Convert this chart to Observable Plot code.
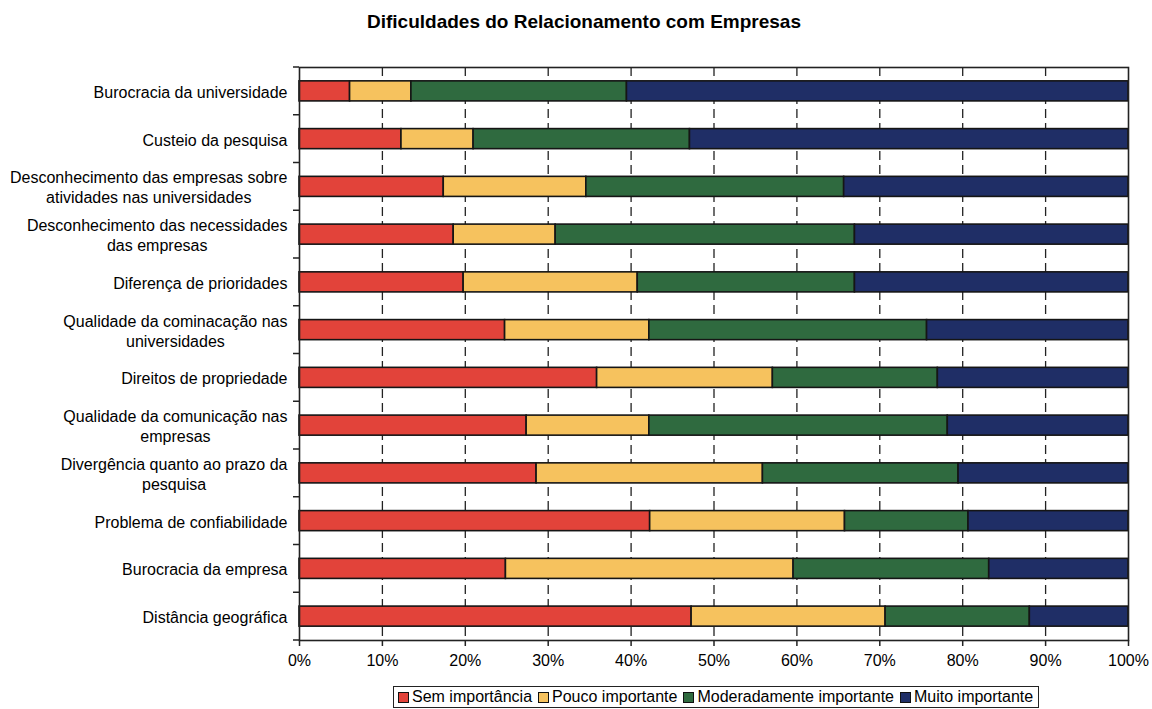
<!DOCTYPE html>
<html><head><meta charset="utf-8">
<script src="https://cdn.jsdelivr.net/npm/d3@7"></script>
<script src="https://cdn.jsdelivr.net/npm/@observablehq/plot@0.6"></script>
<style>
body{margin:0;background:#fff;font-family:"Liberation Sans",Arial,sans-serif;width:1152px;height:709px;overflow:hidden;position:relative;color:#000}
#title{position:absolute;left:0;width:1168px;top:11px;text-align:center;font-weight:bold;font-size:19px}
#chart{position:absolute;left:0;top:40px}
#legend{position:absolute;left:393px;top:686px;border:1px solid #222;padding:1px 5px 1px 4px;display:flex;font-size:16px;white-space:nowrap;background:#fff}
#legend .it{display:flex;align-items:center;margin-right:6px}
#legend .it:last-child{margin-right:0}
#legend .sw{width:9px;height:9px;border:1.5px solid #111;margin-right:3px}
</style></head>
<body>
<div id="title">Dificuldades do Relacionamento com Empresas</div>
<div id="chart"></div>
<div id="legend"></div>
<script>
const categories = [
  "Burocracia da universidade",
  "Custeio da pesquisa",
  "Desconhecimento das empresas sobre\natividades nas universidades",
  "Desconhecimento das necessidades\ndas empresas",
  "Diferença de prioridades",
  "Qualidade da cominacação nas\nuniversidades",
  "Direitos de propriedade",
  "Qualidade da comunicação nas\nempresas",
  "Divergência quanto ao prazo da\npesquisa",
  "Problema de confiabilidade",
  "Burocracia da empresa",
  "Distância geográfica"
];
const seriesNames = ["Sem importância", "Pouco importante", "Moderadamente importante", "Muito importante"];
const seriesColors = ["#e2433a", "#f6c25e", "#2f6a3f", "#1f2e66"];
const semImportancia      = [6.1, 12.3, 17.4, 18.6, 19.8, 24.8, 35.9, 27.4, 28.6, 42.3, 24.9, 47.3];
const poucoImportante     = [7.4,  8.7, 17.2, 12.3, 21.0, 17.4, 21.2, 14.8, 27.3, 23.5, 34.7, 23.4];
const moderadamente       = [26.0, 26.1, 31.1, 36.1, 26.2, 33.5, 19.9, 36.0, 23.6, 14.9, 23.6, 17.4];
const muitoImportante     = [60.5, 52.9, 34.3, 33.0, 33.0, 24.3, 23.0, 21.8, 20.5, 19.3, 16.8, 11.9];
const xTicks = [0, 10, 20, 30, 40, 50, 60, 70, 80, 90, 100];
const gridTicks = [10, 20, 30, 40, 50, 60, 70, 80, 90];

const seriesValues = [semImportancia, poucoImportante, moderadamente, muitoImportante];
const table = [];
categories.forEach((c, i) => seriesNames.forEach((s, j) => table.push({category: c, series: s, value: seriesValues[j][i]})));

function boundaryTicks(index, scales, values, dims) {
  const y = scales.y;
  const n = categories.length;
  const ys = categories.map(c => y(c));
  const step = (ys[n - 1] - ys[0]) / (n - 1);
  const bw = typeof y.bandwidth === "function" ? y.bandwidth() : step * 0.4;
  const centers = ys.map(v => v + bw / 2);
  const bounds = centers.map(c => c - step / 2).concat([centers[n - 1] + step / 2]);
  const g = d3.create("svg:g").attr("stroke", "#222").attr("stroke-width", 1.5);
  bounds.forEach(b => g.append("line").attr("x1", dims.marginLeft - 6).attr("x2", dims.marginLeft).attr("y1", b).attr("y2", b));
  return g.node();
}

const chart = Plot.plot({
  width: 1152, height: 640,
  marginLeft: 299, marginRight: 24, marginTop: 27, marginBottom: 40,
  style: {fontFamily: "Liberation Sans, Arial, sans-serif", fontSize: "16px", color: "black", background: "white", overflow: "visible"},
  x: {domain: [0, 100]},
  y: {domain: categories, paddingInner: 0.58, paddingOuter: 0.29, round: false},
  color: {domain: seriesNames, range: seriesColors},
  marks: [
    Plot.gridX(gridTicks, {stroke: "#222", strokeOpacity: 1, strokeDasharray: "9,5", strokeWidth: 1.3}),
    Plot.barX(table, Plot.stackX({x: "value", y: "category", fill: "series", z: "series", order: seriesNames, stroke: "#151515", strokeWidth: 1.6})),
    Plot.frame({stroke: "#222", strokeWidth: 1.6}),
    Plot.axisX({ticks: xTicks, tickFormat: d => d + "%", tickSize: 6, tickPadding: 8, fontSize: 16, stroke: "#222", strokeWidth: 1.5, label: null}),
    Plot.axisY({tickSize: 0, tickPadding: 12, fontSize: 16, lineHeight: 1.25, label: null}),
    boundaryTicks
  ]
});
document.getElementById("chart").append(chart);

// center-align the lines of multi-line y labels inside a right-aligned block
d3.select(chart).selectAll('g[aria-label="y-axis tick label"] text').each(function() {
  const tspans = this.querySelectorAll("tspan");
  if (tspans.length < 2) return;
  let maxW = 0;
  tspans.forEach(t => { maxW = Math.max(maxW, t.getComputedTextLength()); });
  this.setAttribute("text-anchor", "middle");
  tspans.forEach(t => {
    const x0 = +(t.getAttribute("x") || 0);
    t.setAttribute("x", x0 - maxW / 2);
  });
});

const legend = d3.select("#legend");
seriesNames.forEach((s, i) => {
  const it = legend.append("div").attr("class", "it");
  it.append("div").attr("class", "sw").style("background", seriesColors[i]);
  it.append("span").text(s);
});
</script>
</body></html>
